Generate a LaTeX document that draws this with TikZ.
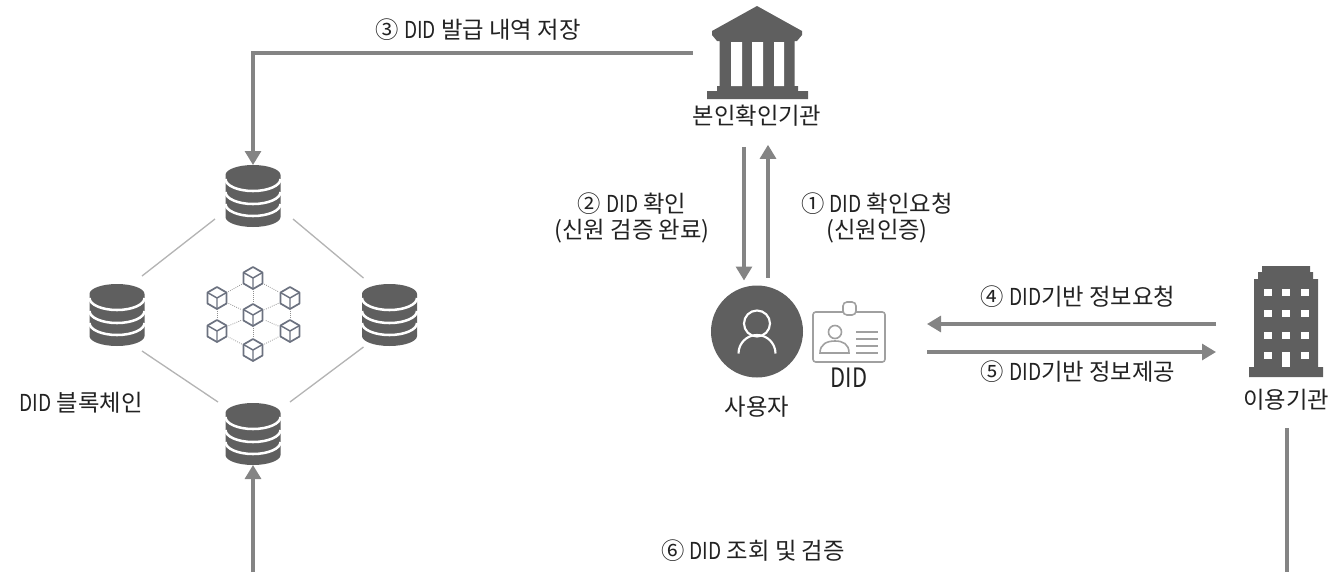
\documentclass[tikz,border=0pt]{standalone}
\usepackage{fontspec}
\usepackage{graphicx}
\setmainfont{Noto Sans CJK KR}
\usetikzlibrary{arrows.meta}
\definecolor{iconGray}{HTML}{5F5F5F}
\definecolor{arrowGray}{HTML}{848484}
\definecolor{linkGray}{HTML}{B4B4B4}
\definecolor{cardGray}{HTML}{A0A0A0}
\definecolor{cubeGray}{HTML}{6C7280}
\definecolor{textBlack}{HTML}{222222}
\newcommand{\didText}{\scalebox{.82}[1]{DID}}
\tikzstyle{iconBox} = [rectangle, inner sep=0pt, outer sep=0pt]
\tikzstyle{bigText} = [text=textBlack, inner sep=0pt, align=center, font=\fontsize{17.5pt}{20pt}\selectfont]
\tikzstyle{stepText} = [text=textBlack, inner sep=0pt, align=center, font=\fontsize{17.5pt}{19.5pt}\selectfont]
\tikzstyle{arrow} = [draw=arrowGray, line width=2.3pt, ->, >={Triangle[length=10.5pt,width=12pt]}]
\tikzstyle{stub} = [draw=arrowGray, line width=2.3pt]
\tikzstyle{link} = [draw=linkGray, line width=1pt]
\tikzstyle{dotLink} = [draw=linkGray!80!black, line width=.6pt, densely dotted, shorten >=9pt, shorten <=9pt]
\tikzset{
  dbIcon/.pic={
    \fill [iconGray] (-27.5,-21) -- (-27.5,21) arc [start angle=180, end angle=0, x radius=27.5, y radius=10] -- (27.5,-21) arc [start angle=0, end angle=-180, x radius=27.5, y radius=10] -- cycle;
    \foreach \yband in {-17,-4,8} {
      \draw [white, line width=1.9pt] (-27.5,\yband) arc [start angle=180, end angle=0, x radius=27.5, y radius=12];
    }
  },
  bankIcon/.pic={
    \fill [iconGray] (0,-47) -- (45,-22) -- (45,-18) -- (40,-12) -- (37.5,-12) -- (37.5,33) -- (41,33) -- (41,38) -- (51,38) -- (51,46) -- (-50,46) -- (-50,38) -- (-40,38) -- (-40,33) -- (-37.5,33) -- (-37.5,-12) -- (-40,-12) -- (-45,-18) -- (-45,-22) -- cycle;
    \fill [white] (-26,-11) rectangle (-15,33) (-5,-11) rectangle (6,33) (17,-11) rectangle (27,33);
  },
  userIcon/.pic={
    \fill [iconGray] (0,0) circle [radius=46];
    \draw [white, line width=1.6pt] (0,-8) circle [radius=13];
    \draw [white, line width=1.6pt] (-18.5,22) arc [start angle=180, end angle=360, radius=18.5];
  },
  cardIcon/.pic={
    \draw [cardGray, line width=1.2pt, rounded corners=2pt] (-36,-25) rectangle (36,25);
    \draw [cardGray, line width=1.2pt, fill=white, rounded corners=3pt] (-6,-35) rectangle (7,-22);
    \draw [cardGray, line width=1.2pt] (-14,-5) circle [radius=6.5];
    \draw [cardGray, line width=1.2pt] (-29,16) .. controls (-29,7) and (-22,4) .. (-14,4) .. controls (-6,4) and (0,7) .. (0,16) -- cycle;
    \foreach \yrow in {-5,2,9,16} {
      \draw [cardGray, line width=1.2pt] (7,\yrow) -- (29,\yrow);
    }
  },
  companyIcon/.pic={
    \fill [iconGray] (-24,-55.5) -- (24,-55.5) -- (24,-49.5) -- (27,-49.5) -- (27,-42.5) -- (32,-42.5) -- (32,45.5) -- (37,45.5) -- (37,55.5) -- (-37,55.5) -- (-37,45.5) -- (-32,45.5) -- (-32,-42.5) -- (-28,-42.5) -- (-28,-49.5) -- (-24,-49.5) -- cycle;
    \foreach \yrow in {-32.5,-11.5,10.5,30.5} {
      \foreach \xcol in {-22,-4,15} {
        \fill [white] (\xcol,\yrow) rectangle ++(8,7);
      }
    }
    \fill [white] (-4,37) rectangle (4,45.5);
  },
  cubeIcon/.pic={
    \draw [cubeGray, line width=1.3pt, line join=round] (0,-11) -- (9.5,-5.5) -- (9.5,5.5) -- (0,11) -- (-9.5,5.5) -- (-9.5,-5.5) -- cycle;
    \draw [cubeGray, line width=1.1pt, line join=round] (-9.5,-5.5) -- (0,0) -- (9.5,-5.5) (0,0) -- (0,11);
  }
}
\begin{document}
\begin{tikzpicture}[x=.75pt, y=-.75pt, node distance=40pt]
\useasboundingbox (0,0) rectangle (1332,572);

% blockchain
\node (dbTop) [iconBox, minimum width=41.25pt, minimum height=46.5pt] at (253,196) {};
\node (dbLeft) [iconBox, minimum width=41.25pt, minimum height=46.5pt] at (117,315) {};
\node (dbRight) [iconBox, minimum width=41.25pt, minimum height=46.5pt] at (389.5,315) {};
\node (dbBottom) [iconBox, minimum width=41.25pt, minimum height=46.5pt] at (253,434) {};
\foreach \dbname in {dbTop,dbLeft,dbRight,dbBottom} {
  \pic at (\dbname) {dbIcon};
}
\draw [link] ([shift={(25,-39)}]dbLeft.center) -- ([shift={(-38,23)}]dbTop.center);
\draw [link] ([shift={(40,23)}]dbTop.center) -- ([shift={(-26,-37)}]dbRight.center);
\draw [link] ([shift={(25,36)}]dbLeft.center) -- ([shift={(-35,-32)}]dbBottom.center);
\draw [link] ([shift={(37,-32)}]dbBottom.center) -- ([shift={(-26,32)}]dbRight.center);
\node (chainLabel) [bigText] at (81,403) {\didText{} 블록체인};

\node (cubeMid) [iconBox] at (253,315) {};
\node (cubeTop) [iconBox] at (253,278) {};
\node (cubeUL) [iconBox] at (217,298) {};
\node (cubeUR) [iconBox] at (290,298) {};
\node (cubeLL) [iconBox] at (217,331) {};
\node (cubeLR) [iconBox] at (290,331) {};
\node (cubeBottom) [iconBox] at (253,350) {};
\foreach \from/\to in {cubeTop/cubeMid,cubeMid/cubeBottom,cubeUL/cubeMid,cubeUR/cubeMid,cubeLL/cubeMid,cubeLR/cubeMid,cubeTop/cubeUL,cubeTop/cubeUR,cubeBottom/cubeLL,cubeBottom/cubeLR,cubeUL/cubeLL,cubeUR/cubeLR} {
  \draw [dotLink] (\from) -- (\to);
}
\foreach \cubename in {cubeMid,cubeTop,cubeUL,cubeUR,cubeLL,cubeLR,cubeBottom} {
  \pic at (\cubename) {cubeIcon};
}

% bank, user, company
\node (bank) [iconBox, minimum width=75.75pt, minimum height=70pt] at (757,53) {};
\pic at (bank) {bankIcon};
\node (bankLabel) [bigText, below of=bank, yshift=-7.2pt] {본인확인기관};

\node (user) [iconBox, minimum width=69pt, minimum height=69pt] at (757,331.5) {};
\pic at (user) {userIcon};
\node (userLabel) [bigText, below of=user, yshift=-16.6pt] {사용자};

\node (card) [iconBox, minimum width=54pt, minimum height=37.5pt] at (849,337) {};
\pic at (card) {cardIcon};
\node (cardLabel) [bigText, below of=card, yshift=9.25pt, font=\fontsize{20pt}{20pt}\selectfont] {\didText};

\node (company) [iconBox, minimum width=55.5pt, minimum height=83.25pt] at (1286,321.5) {};
\pic at (company) {companyIcon};
\node (companyLabel) [bigText, below of=company, yshift=-18.9pt] {이용기관};

% step labels
\node (stepThree) [stepText] at (478,30) {③ \didText{} 발급 내역 저장};
\node (stepTwo) [stepText] at (632,218) {② \didText{} 확인\\(신원 검증 완료)};
\node (stepOne) [stepText] at (877,218) {① \didText{} 확인요청\\(신원인증)};
\node (stepFour) [stepText] at (1078,297) {④ \didText{}기반 정보요청};
\node (stepFive) [stepText] at (1078,372) {⑤ \didText{}기반 정보제공};
\node (stepSix) [stepText] at (753,551) {⑥ \didText{} 조회 및 검증};

\coordinate (edgeLeft) at (253,572);
\coordinate (edgeRight) at (1287,572);

\draw [arrow] ([xshift=-10.5pt]bank.west) -| (dbTop.north);
\draw [arrow] ([shift={(-13,20)}]bankLabel.south) -- ([shift={(-13,-5)}]user.north);
\draw [arrow] ([shift={(11,-8)}]user.north) -- ([shift={(11,18)}]bankLabel.south);
\draw [arrow] ([shift={(-33,2.5)}]company.west) -- ([shift={(42,-13)}]card.east);
\draw [arrow] ([shift={(42,15)}]card.east) -- ([shift={(-33,30.5)}]company.west);
\draw [arrow] (edgeLeft) -- (dbBottom.south);
\draw [stub] ([yshift=-13pt]companyLabel.south -| edgeRight) -- (edgeRight);

\end{tikzpicture}
\end{document}
